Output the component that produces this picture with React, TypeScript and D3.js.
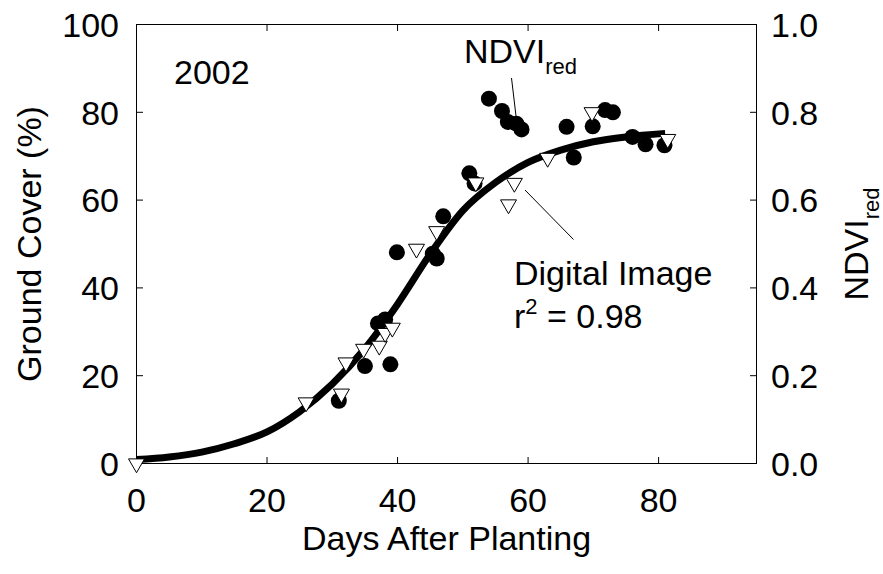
import React from "react";
import * as d3 from "d3";

// NDVI_red observations (filled circles, right axis)
const ndviDays = [31.0, 35.0, 38.9, 37.0, 38.1, 39.9, 45.4, 46.0, 47.0, 51.0, 51.8, 54.0, 56.0, 56.9, 58.2, 59.0, 65.9, 67.0, 69.9, 71.8, 73.0, 76.0, 78.0, 80.9];
const ndviValues = [0.143, 0.222, 0.226, 0.319, 0.328, 0.481, 0.478, 0.467, 0.563, 0.661, 0.638, 0.831, 0.803, 0.778, 0.774, 0.761, 0.767, 0.697, 0.768, 0.805, 0.800, 0.744, 0.727, 0.725];

// Digital image ground cover (open down-triangles, left axis)
const imageDays = [0, 26.0, 31.4, 32.1, 34.8, 37.2, 38.1, 39.2, 42.9, 46.0, 52.0, 57.9, 57.0, 63.0, 69.8, 81.4];
const imageCover = [0, 13.9, 15.9, 23.0, 26.1, 26.8, 29.7, 30.9, 48.9, 52.9, 64.0, 63.9, 59.0, 69.6, 80.0, 73.9];

// Fitted sigmoid curve
const fitDays = [0, 5, 10, 15, 20, 25, 30, 35, 40, 45, 50, 55, 60, 65, 70, 75, 81];
const fitCover = [0.9, 1.5, 2.6, 4.5, 7.2, 11.8, 18.1, 26.2, 36.3, 47.7, 57.6, 64.0, 68.6, 71.4, 73.3, 74.4, 75.2];

const xTicks = [0, 20, 40, 60, 80];
const yTicks = [0, 20, 40, 60, 80, 100];
const yRightTicks = [0, 0.2, 0.4, 0.6, 0.8, 1.0];

const FONT = "'Liberation Sans', Arial, Helvetica, sans-serif";

export default function App() {
  const W = 883;
  const H = 574;
  const left = 136.5, right = 756.5, top = 24.5, bottom = 463.5;
  const x = d3.scaleLinear().domain([0, 95]).range([left, right]);
  const y = d3.scaleLinear().domain([0, 100]).range([bottom, top]);
  const yR = d3.scaleLinear().domain([0, 1]).range([bottom, top]);

  const fitData = fitDays.map((d, i) => [d, fitCover[i]] as [number, number]);
  const line = d3
    .line<[number, number]>()
    .x((p) => x(p[0]))
    .y((p) => y(p[1]))
    .curve(d3.curveMonotoneX);

  const tickLen = 6.5;
  const fs = 34;
  const triSide = 16;
  const triH = (triSide * Math.sqrt(3)) / 2;
  const tri = (cx: number, cy: number) =>
    `M${cx - triSide / 2},${cy - triH / 3} L${cx + triSide / 2},${cy - triH / 3} L${cx},${cy + (2 * triH) / 3} Z`;

  return (
    <svg
      width={W}
      height={H}
      viewBox={`0 0 ${W} ${H}`}
      style={{ position: "absolute", left: 0, top: 0, background: "#fff" }}
      fontFamily={FONT}
    >
      <rect x={0} y={0} width={W} height={H} fill="#fff" />
      {/* frame */}
      <rect x={left} y={top} width={right - left} height={bottom - top} fill="none" stroke="#000" strokeWidth={1} />

      {/* x ticks bottom & top (inward) */}
      {xTicks.map((t) => (
        <g key={"xt" + t}>
          <line x1={x(t)} x2={x(t)} y1={bottom} y2={bottom - tickLen} stroke="#000" />
          <line x1={x(t)} x2={x(t)} y1={top} y2={top + tickLen} stroke="#000" />
          <text x={x(t)} y={512} textAnchor="middle" fontSize={fs}>
            {t}
          </text>
        </g>
      ))}

      {/* left y ticks */}
      {yTicks.map((t) => (
        <g key={"yt" + t}>
          <line x1={left} x2={left + tickLen} y1={y(t)} y2={y(t)} stroke="#000" />
          <text x={119} y={y(t) + 12.3} textAnchor="end" fontSize={fs}>
            {t}
          </text>
        </g>
      ))}

      {/* right y ticks */}
      {yRightTicks.map((t) => (
        <g key={"yr" + t}>
          <line x1={right} x2={right - tickLen} y1={yR(t)} y2={yR(t)} stroke="#000" />
          <text x={771} y={yR(t) + 12.3} textAnchor="start" fontSize={fs}>
            {t.toFixed(1)}
          </text>
        </g>
      ))}

      {/* fitted curve */}
      <path d={line(fitData) || ""} fill="none" stroke="#000" strokeWidth={7} />

      {/* NDVI circles */}
      {ndviDays.map((d, i) => (
        <circle key={"c" + i} cx={x(d)} cy={yR(ndviValues[i])} r={8} fill="#000" />
      ))}

      {/* digital image triangles */}
      {imageDays.map((d, i) => (
        <path key={"t" + i} d={tri(x(d), y(imageCover[i]))} fill="#fff" stroke="#000" strokeWidth={1} />
      ))}

      {/* annotations */}
      <text x={174} y={84} fontSize={fs}>2002</text>
      <text x={464} y={63} fontSize={fs}>
        NDVI
        <tspan fontSize={22} dy={11}>red</tspan>
      </text>
      <line x1={511.5} y1={78} x2={516} y2={116} stroke="#000" strokeWidth={1} />

      <line x1={525} y1={190} x2={573.5} y2={239.5} stroke="#000" strokeWidth={1} />
      <text x={514} y={285} fontSize={fs}>Digital Image</text>
      <text x={514} y={328} fontSize={fs}>
        r
        <tspan fontSize={22} dy={-14}>2</tspan>
        <tspan dy={14}> = 0.98</tspan>
      </text>

      {/* axis titles */}
      <text x={446.5} y={550} textAnchor="middle" fontSize={fs}>
        Days After Planting
      </text>
      <text transform={`translate(41,244) rotate(-90)`} textAnchor="middle" fontSize={fs}>
        Ground Cover (%)
      </text>
      <text transform={`translate(868,244) rotate(-90)`} textAnchor="middle" fontSize={fs}>
        NDVI
        <tspan fontSize={22} dy={11}>red</tspan>
      </text>
    </svg>
  );
}
